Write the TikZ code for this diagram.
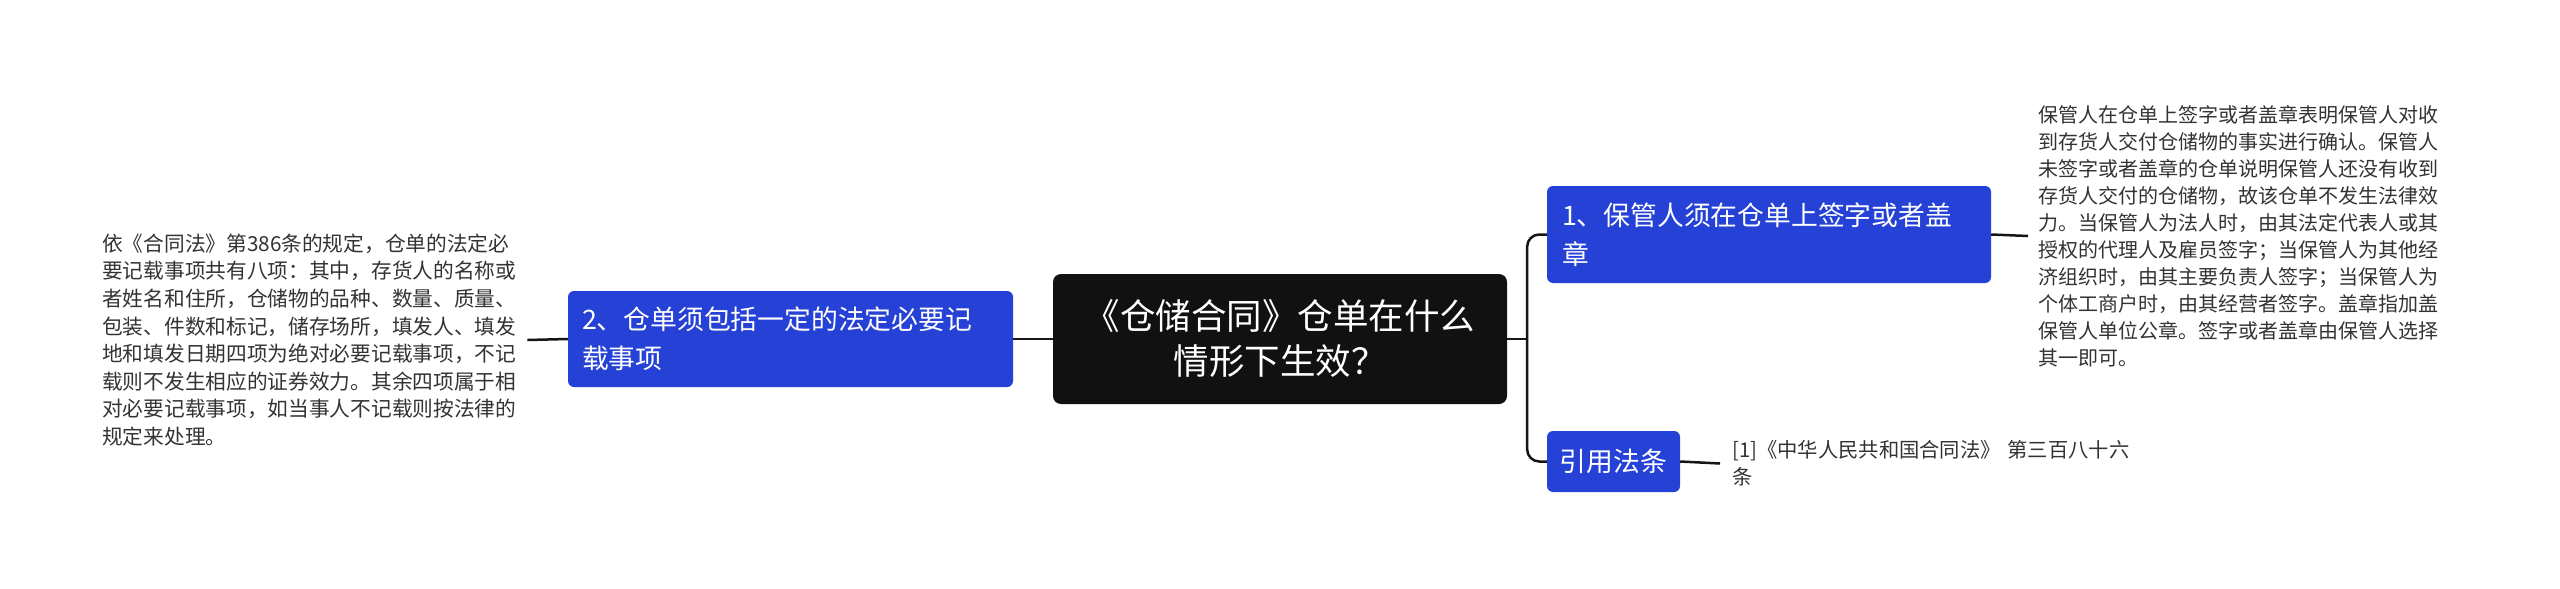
\documentclass[tikz,border=0pt]{standalone}
\usepackage{fontspec}
\setmainfont{Noto Sans CJK SC}
\definecolor{nodeblue}{HTML}{2541D6}
\definecolor{nodedark}{HTML}{111111}
\definecolor{txtgray}{HTML}{333333}
\definecolor{linecol}{HTML}{151515}
\begin{document}
\begin{tikzpicture}[x=1pt,y=-1pt,
  conn/.style={draw=linecol, line width=2.5pt},
  centerbox/.style={fill=nodedark, text=white, rounded corners=8pt, align=center,
    font=\fontsize{35.5}{45}\selectfont, inner sep=0pt},
  bluebox/.style={fill=nodeblue, text=white, rounded corners=6pt, align=left,
    font=\fontsize{26.8}{39}\selectfont, inner ysep=0pt},
  plaintext/.style={text=txtgray, align=left, inner ysep=0pt,
    font=\fontsize{20}{27}\selectfont}
]
\useasboundingbox (0,0) rectangle (2560,589);
\fill[white] (0,0) rectangle (2560,589);

\node[centerbox, minimum width=454pt, minimum height=130pt] (c) at (1280,339)
  {《仓储合同》仓单在什么\\情形下生效？};

\node[bluebox, text width=417pt, inner xsep=14pt, minimum height=96pt] (n2) at (790.5,339)
  {2、仓单须包括一定的法定必要记\\载事项};

\node[bluebox, text width=414pt, inner xsep=15pt, minimum height=97pt] (n1) at (1769,234.5)
  {1、保管人须在仓单上签字或者盖\\章};

\node[bluebox, align=center, minimum width=133pt, minimum height=61pt, inner xsep=0pt] (n3) at (1613.5,461.5)
  {引用法条};

\node[plaintext, font=\fontsize{20.7}{27.6}\selectfont, text width=420pt, inner xsep=5pt, anchor=west] (lt) at (97,340)
  {依《合同法》第386条的规定，仓单的法定必\\
   要记载事项共有八项：其中，存货人的名称或\\
   者姓名和住所，仓储物的品种、数量、质量、\\
   包装、件数和标记，储存场所，填发人、填发\\
   地和填发日期四项为绝对必要记载事项，不记\\
   载则不发生相应的证券效力。其余四项属于相\\
   对必要记载事项，如当事人不记载则按法律的\\
   规定来处理。};

\node[plaintext, text width=400pt, inner xsep=10pt, anchor=west] (rt) at (2028,236)
  {保管人在仓单上签字或者盖章表明保管人对收\\
   到存货人交付仓储物的事实进行确认。保管人\\
   未签字或者盖章的仓单说明保管人还没有收到\\
   存货人交付的仓储物，故该仓单不发生法律效\\
   力。当保管人为法人时，由其法定代表人或其\\
   授权的代理人及雇员签字；当保管人为其他经\\
   济组织时，由其主要负责人签字；当保管人为\\
   个体工商户时，由其经营者签字。盖章指加盖\\
   保管人单位公章。签字或者盖章由保管人选择\\
   其一即可。};

\node[plaintext, font=\fontsize{20.3}{27}\selectfont, text width=420pt, inner xsep=12pt, anchor=west] (cit) at (1720,463.5)
  {[1]《中华人民共和国合同法》 第三百八十六\\条};

% connectors
\draw[conn] (n2.east) -- (c.west);
\draw[conn] (lt.east) -- (n2.west);
\draw[conn] (c.east) -- ++(20,0) coordinate (j);
\draw[conn, rounded corners=12pt] (n1.west) -| (j) |- (n3.west);
\draw[conn] (n1.east) -- (rt.west);
\draw[conn] (n3.east) -- (cit.west);
\end{tikzpicture}
\end{document}
